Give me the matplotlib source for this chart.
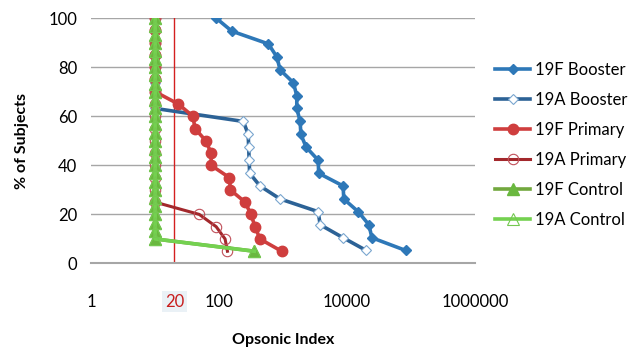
import matplotlib
matplotlib.use("Agg")
import matplotlib.pyplot as plt
from matplotlib.ticker import FixedLocator, FixedFormatter, NullLocator

plt.rcParams['font.family'] = ['Lato', 'DejaVu Sans']

# Datos (índice opsónico vs % de sujetos)
y_booster = [100, 94.7, 89.5, 84.2, 78.9, 73.7, 68.4, 63.2, 57.9, 52.6,
             47.4, 42.1, 36.8, 31.6, 26.3, 21.1, 15.8, 10.5, 5.3]
x_19f_booster = [90, 158, 590, 800, 900, 1450, 1640, 1640, 1850, 1900,
                 2300, 3550, 3600, 8700, 8900, 15000, 22000, 24500, 83000]
x_19a_booster = [10, 10, 10, 10, 10, 10, 10, 10, 240, 285,
                 290, 295, 300, 436, 900, 3550, 3800, 8700, 20000]

y_primary = [100, 95, 90, 85, 80, 75, 70, 65, 60, 55,
             50, 45, 40, 35, 30, 25, 20, 15, 10, 5]
x_19f_primary = [10, 10, 10, 10, 10, 10, 10, 23, 39, 42,
                 62, 75, 75, 145, 150, 255, 315, 365, 435, 950]
x_19a_primary = [10, 10, 10, 10, 10, 10, 10, 10, 10, 10,
                 10, 10, 10, 10, 10, 10, 49, 90, 124, 135]

y_control = [100, 96.7, 93.3, 90, 86.7, 83.3, 80, 76.7, 73.3, 70,
             66.7, 63.3, 60, 56.7, 53.3, 50, 46.7, 43.3, 40, 36.7,
             33.3, 30, 26.7, 23.3, 20, 16.7, 13.3, 10, 5]
x_19f_control = [10] * 28 + [355]
x_19a_control = [10] * 28 + [355]

xticks = [1, 100, 10000, 1000000]
xtick_labels = ['1', '100', '10000', '1000000']
yticks = [0, 20, 40, 60, 80, 100]
umbral = 20

fig = plt.figure(figsize=(6.29, 3.49), dpi=100)
ax = fig.add_axes([0.145, 0.245, 0.61, 0.703])

ax.axvline(umbral, color='#d42020', linewidth=1, zorder=1)

ax.plot(x_19f_booster, y_booster, color='#2e78b8', linewidth=2.6,
        marker='D', markersize=5.5, label='19F Booster', zorder=3)
ax.plot(x_19a_booster, y_booster, color='#2c6296', linewidth=2.6,
        marker='D', markersize=5, markerfacecolor='white', markeredgecolor='#7aa6cf',
        markeredgewidth=0.8, label='19A Booster', zorder=3)
ax.plot(x_19f_primary, y_primary, color='#cf3e3e', linewidth=2.6,
        marker='o', markersize=7.5, label='19F Primary', zorder=4)
ax.plot(x_19a_primary, y_primary, color='#a3282c', linewidth=2.2,
        marker='o', markersize=7.5, markerfacecolor='none', markeredgecolor='#c0505a',
        markeredgewidth=0.8, label='19A Primary', zorder=4)
ax.plot(x_19f_control, y_control, color='#72a83e', linewidth=2.6,
        marker='^', markersize=8.5, markerfacecolor='#6ab83f', markeredgecolor='#6ab83f',
        label='19F Control', zorder=5)
ax.plot(x_19a_control, y_control, color='#74d150', linewidth=2.6,
        marker='^', markersize=8.5, markerfacecolor='none', markeredgecolor='#74c850',
        markeredgewidth=0.8, label='19A Control', zorder=5)

ax.set_xscale('log')
ax.set_xlim(1, 1000000)
ax.set_ylim(0, 100)
ax.xaxis.set_major_locator(FixedLocator(xticks))
ax.xaxis.set_major_formatter(FixedFormatter(xtick_labels))
ax.xaxis.set_minor_locator(NullLocator())
ax.set_yticks(yticks)
ax.tick_params(axis='x', length=0, pad=22, labelsize=12)
ax.tick_params(axis='y', length=0, pad=10, labelsize=12)

ax.grid(axis='y', color='#a6a6a6', linewidth=1)
ax.set_axisbelow(True)
for s in ['top', 'left', 'right']:
    ax.spines[s].set_visible(False)
ax.spines['bottom'].set_color('#a6a6a6')
ax.spines['bottom'].set_linewidth(1.5)

# Etiqueta del umbral 20 en rojo bajo el eje
ax.text(umbral, -0.155, '20', transform=ax.get_xaxis_transform(), ha='center', va='center',
        color='#c81e1e', fontsize=12,
        bbox=dict(boxstyle='square,pad=0.15', facecolor='#eaf1f6', edgecolor='none'))

fig.text(0.035, 0.596, '% of Subjects', rotation=90, ha='center', va='center',
         fontsize=11.5, fontweight='bold')
fig.text(0.451, 0.026, 'Opsonic Index', ha='center', va='center',
         fontsize=11.5, fontweight='bold')

fig.legend(loc='upper left', bbox_to_anchor=(0.787, 0.822), frameon=False,
           fontsize=12, handlelength=2.1, handletextpad=0.3, labelspacing=0.84,
           borderpad=0, borderaxespad=0)

fig.savefig('out.png', dpi=100)
